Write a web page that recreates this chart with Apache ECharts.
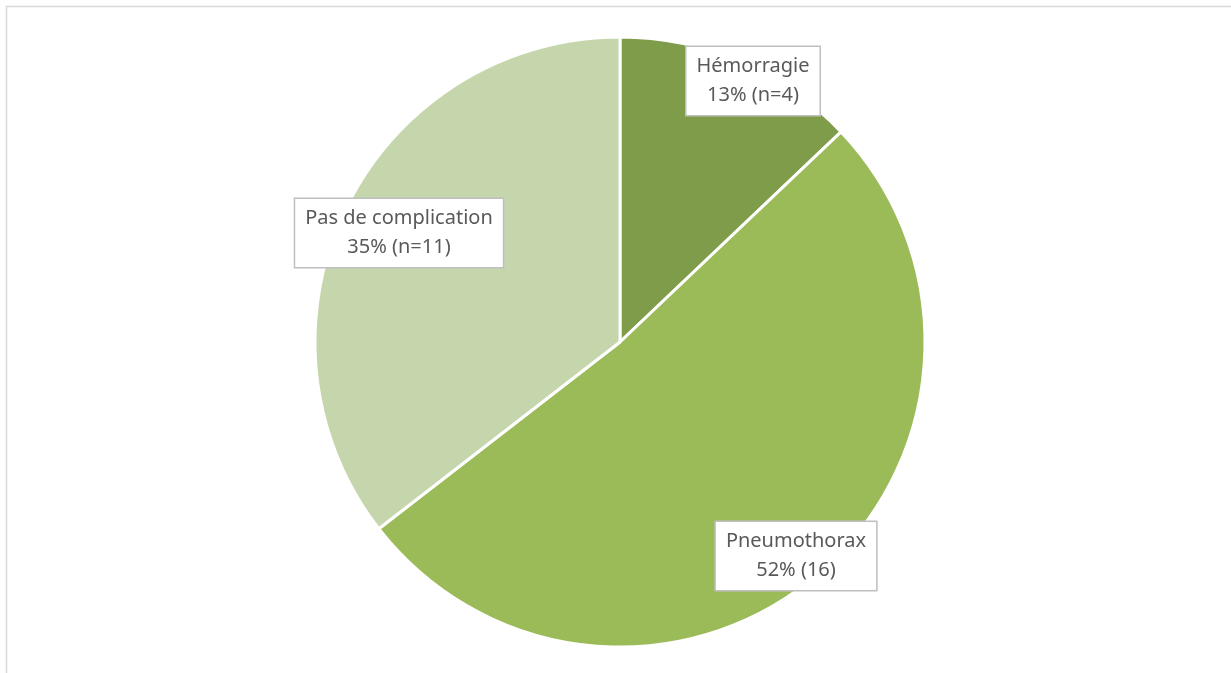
<!DOCTYPE html>
<html>

<head>
    <meta charset="utf-8">
    <title>Complications</title>
    <script src="https://cdn.jsdelivr.net/npm/echarts@6/dist/echarts.min.js"></script>
    <style>
        html,
        body {
            margin: 0;
            padding: 0;
            height: 100%;
            overflow: hidden;
            background: #fff;
        }

        #main {
            width: 1231px;
            height: 673px;
        }
    </style>
</head>

<body>
    <div id="main"></div>

    <script>
        // values
        const categories = ['Hémorragie', 'Pneumothorax', 'Pas de complication'];
        const counts = [4, 16, 11];
        const percentLabels = ['13% (n=4)', '52% (16)', '35% (n=11)'];
        const colors = ['#7f9c4a', '#9bbb59', '#c5d6ac'];

        // where each label box sits (centre), in pixels
        const labelCentres = [[753, 81], [796, 556], [399, 233]];

        const chart = echarts.init(document.getElementById('main'));

        chart.setOption({
            animation: false,
            graphic: [{
                type: 'polyline',
                silent: true,
                shape: { points: [[6.5, 673], [6.5, 6.5], [1231, 6.5]] },
                style: { stroke: '#d9d9d9', lineWidth: 1.5, fill: null }
            }],
            series: [{
                type: 'pie',
                center: [620, 342],
                radius: 305,
                startAngle: 90,
                clockwise: true,
                avoidLabelOverlap: false,
                itemStyle: { borderColor: '#fff', borderWidth: 3 },
                label: {
                    show: true,
                    position: 'inside',
                    color: '#595959',
                    fontFamily: 'Noto Sans',
                    fontSize: 20,
                    lineHeight: 29,
                    align: 'center',
                    backgroundColor: '#fff',
                    borderColor: '#bfbfbf',
                    borderWidth: 1.5,
                    padding: [6, 10, 4, 10],
                    formatter: p => p.name + '\n' + percentLabels[p.dataIndex]
                },
                labelLayout: p => ({
                    x: labelCentres[p.dataIndex][0],
                    y: labelCentres[p.dataIndex][1],
                    align: 'center',
                    verticalAlign: 'middle'
                }),
                emphasis: { disabled: true },
                data: categories.map((name, i) => ({
                    name,
                    value: counts[i],
                    itemStyle: { color: colors[i] }
                }))
            }]
        });
    </script>

</body>

</html>
